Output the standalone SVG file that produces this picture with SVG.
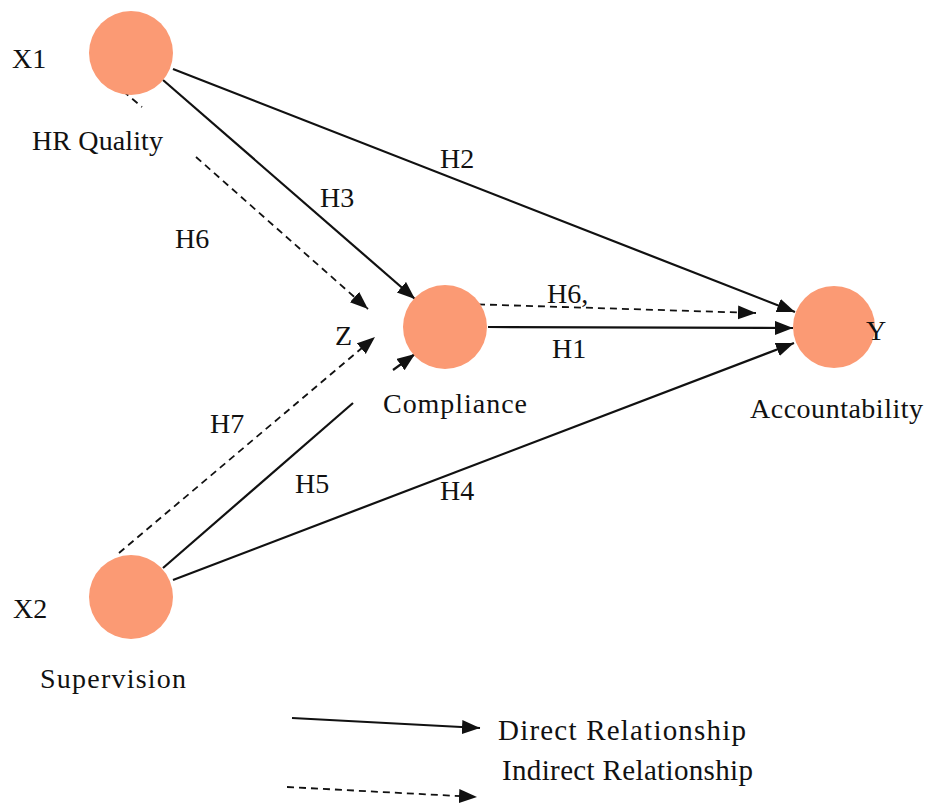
<svg xmlns="http://www.w3.org/2000/svg" width="931" height="803" viewBox="0 0 931 803">
<style>
.node{fill:#FB9A74}
.lbl{font-family:"Liberation Serif","Times New Roman",serif;font-size:28px;fill:#111}
.leg{font-family:"Liberation Serif","Times New Roman",serif;font-size:29px;fill:#111}
.solid{stroke:#111;stroke-width:2.2;fill:none}
.dash{stroke:#111;stroke-width:1.8;fill:none;stroke-dasharray:7 5}
</style>
<defs>
<marker id="ah" markerUnits="userSpaceOnUse" markerWidth="20" markerHeight="16" refX="18" refY="7" orient="auto">
<path d="M0,0 L18,7 L0,14 Z" fill="#111"/>
</marker>
</defs>
<rect width="931" height="803" fill="#fff"/>
<g id="connectors">
<line class="solid" x1="173" y1="69" x2="795" y2="312" marker-end="url(#ah)"/>
<line class="solid" x1="163" y1="80" x2="415" y2="299" marker-end="url(#ah)"/>
<line class="dash" x1="123" y1="91" x2="142" y2="107"/>
<line class="dash" x1="196" y1="157" x2="368" y2="309" marker-end="url(#ah)"/>
<line class="dash" x1="466" y1="304" x2="756" y2="313" marker-end="url(#ah)"/>
<line class="solid" x1="488" y1="327" x2="793" y2="328" marker-end="url(#ah)"/>
<line class="solid" x1="173" y1="580" x2="794" y2="343" marker-end="url(#ah)"/>
<line class="solid" x1="163" y1="568" x2="353" y2="403"/>
<line class="solid" x1="393" y1="370" x2="415" y2="354" marker-end="url(#ah)"/>
<line class="dash" x1="119" y1="553" x2="375" y2="337" marker-end="url(#ah)"/>
<line class="solid" x1="292" y1="718" x2="480" y2="728" marker-end="url(#ah)"/>
<line class="dash" x1="287" y1="787" x2="477" y2="797" marker-end="url(#ah)"/>
</g>
<g id="x1">
<circle class="node" cx="131" cy="53" r="42"/>
<text class="lbl" x="12" y="68">X1</text>
<text class="lbl" x="32" y="150" textLength="131">HR Quality</text>
</g>
<g id="z">
<circle class="node" cx="445" cy="327" r="42"/>
<text class="lbl" x="335" y="345">Z</text>
<text class="lbl" x="383" y="413" textLength="144">Compliance</text>
</g>
<g id="y">
<circle class="node" cx="834" cy="327" r="41"/>
<text class="lbl" x="866" y="340">Y</text>
<text class="lbl" x="750" y="418" textLength="173">Accountability</text>
</g>
<g id="x2">
<circle class="node" cx="131" cy="597" r="42"/>
<text class="lbl" x="13" y="618">X2</text>
<text class="lbl" x="40" y="688" textLength="146">Supervision</text>
</g>
<g id="labels">
<text class="lbl" x="440" y="168">H2</text>
<text class="lbl" x="320" y="207">H3</text>
<text class="lbl" x="175" y="248">H6</text>
<text class="lbl" x="547" y="303">H6,</text>
<text class="lbl" x="552" y="358">H1</text>
<text class="lbl" x="210" y="433">H7</text>
<text class="lbl" x="295" y="493">H5</text>
<text class="lbl" x="440" y="500">H4</text>
</g>
<g id="legend">
<text class="leg" x="498" y="740" textLength="248">Direct Relationship</text>
<text class="leg" x="502" y="780" textLength="251">Indirect Relationship</text>
</g>
</svg>
